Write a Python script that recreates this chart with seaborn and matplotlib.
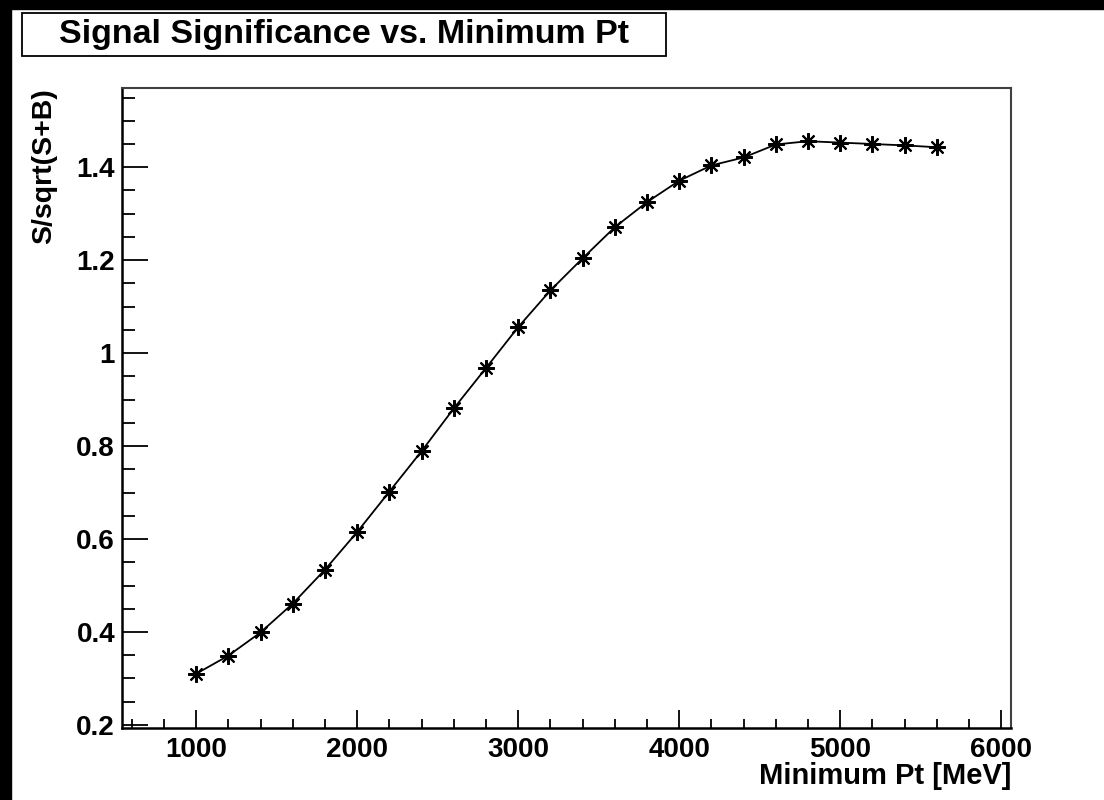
import numpy as np
import pandas as pd
import matplotlib
matplotlib.use("Agg")
import matplotlib.pyplot as plt
from matplotlib.patches import Rectangle
from matplotlib.ticker import MultipleLocator, FuncFormatter
import seaborn as sns

sns.set_style("ticks")
plt.rcParams['font.family'] = ['Liberation Sans', 'DejaVu Sans']
plt.rcParams['font.weight'] = 'bold'
plt.rcParams['text.color'] = 'k'
plt.rcParams['axes.labelcolor'] = 'k'
plt.rcParams['xtick.color'] = 'k'
plt.rcParams['ytick.color'] = 'k'

# data
min_pt = [1000, 1200, 1400, 1600, 1800, 2000, 2200, 2400, 2600, 2800, 3000, 3200,
          3400, 3600, 3800, 4000, 4200, 4400, 4600, 4800, 5000, 5200, 5400, 5600]
significance = [0.310, 0.349, 0.399, 0.461, 0.534, 0.615, 0.702, 0.789, 0.881, 0.968,
                1.056, 1.135, 1.204, 1.271, 1.325, 1.371, 1.404, 1.421, 1.449, 1.456,
                1.453, 1.450, 1.447, 1.443]

df = pd.DataFrame({'pt': min_pt, 'sig': significance})

W, H = 1104, 800
fig = plt.figure(figsize=(W / 100, H / 100), dpi=100)
ax = fig.add_axes([122 / W, 1 - 727.5 / H, (1011 - 122) / W, (727.5 - 88) / H])

sns.lineplot(data=df, x='pt', y='sig', color='k', linewidth=1.3,
             marker=(8, 2, 0), markersize=12, mec='k', mew=1.5, ax=ax)

ax.set_xlim(540, 6060)
ax.set_ylim(0.1945, 1.5705)

ax.xaxis.set_major_locator(MultipleLocator(1000))
ax.xaxis.set_minor_locator(MultipleLocator(200))
ax.yaxis.set_major_locator(MultipleLocator(0.2))
ax.yaxis.set_minor_locator(MultipleLocator(0.05))
ax.yaxis.set_major_formatter(FuncFormatter(lambda v, p: '%g' % round(v, 2)))

ax.tick_params(axis='both', which='both', direction='in', top=False, right=False,
               labelsize=20, width=1.3, color='k', labelcolor='k')
ax.tick_params(axis='x', which='major', length=13, pad=7)
ax.tick_params(axis='x', which='minor', length=6.5)
ax.tick_params(axis='y', which='major', length=19, pad=5)
ax.tick_params(axis='y', which='minor', length=9.5)
for lab in ax.get_xticklabels() + ax.get_yticklabels():
    lab.set_fontweight('bold')

for s in ['left', 'bottom']:
    ax.spines[s].set_linewidth(1.8)
    ax.spines[s].set_color('k')
for s in ['top', 'right']:
    ax.spines[s].set_linewidth(1.5)
    ax.spines[s].set_color('#404040')

ax.set_xlabel('Minimum Pt [MeV]', fontsize=21, fontweight='bold')
ax.xaxis.set_label_coords(1.0, -0.076)
ax.xaxis.label.set_horizontalalignment('right')
ax.xaxis.label.set_verticalalignment('center')
ax.set_ylabel('S/sqrt(S+B)', fontsize=20.5, fontweight='bold')
ax.yaxis.set_label_coords(-0.087, 1.0)
ax.yaxis.label.set_verticalalignment('center')
ax.yaxis.label.set_horizontalalignment('right')

# title box
fig.patches.append(Rectangle((22 / W, 1 - 56 / H), (666 - 22) / W, (56 - 12.7) / H,
                             transform=fig.transFigure, fill=False, ec='k', lw=1.3))
fig.text(344 / W, 1 - 35 / H, 'Signal Significance vs. Minimum Pt', fontsize=24.5,
         fontweight='bold', ha='center', va='center')

# black canvas edges
fig.patches.append(Rectangle((0, 1 - 9 / H), 1, 9 / H, transform=fig.transFigure,
                             color='k', zorder=10))
fig.patches.append(Rectangle((0, 0), 10.5 / W, 1, transform=fig.transFigure,
                             color='k', zorder=10))

fig.savefig('out.png', dpi=100)
